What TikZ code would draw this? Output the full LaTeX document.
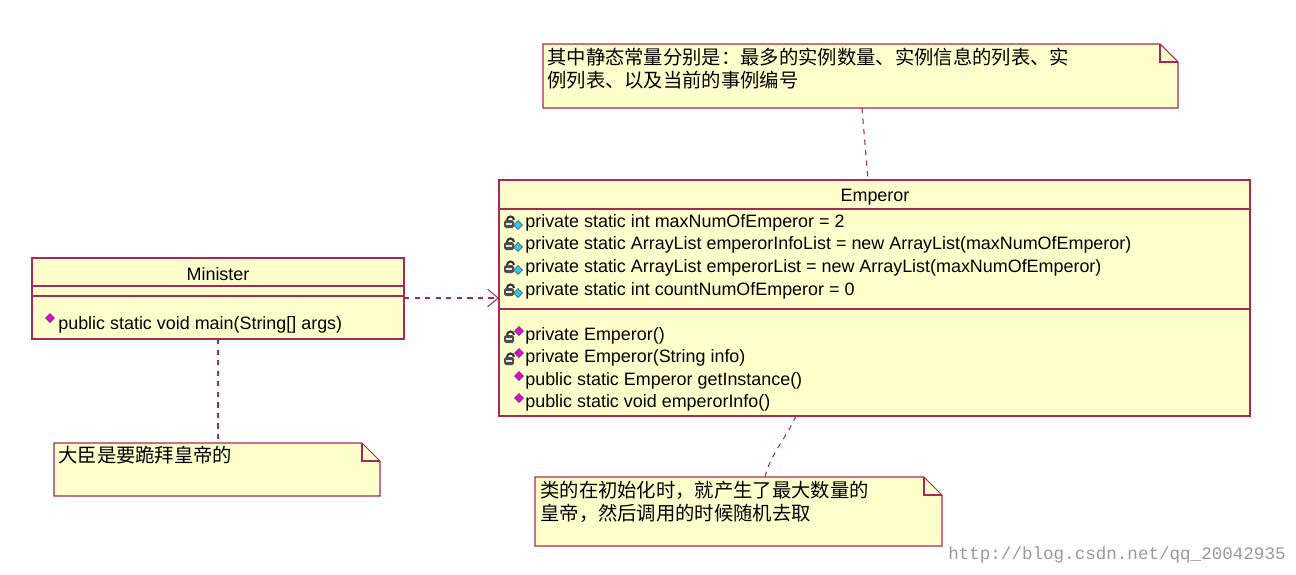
\documentclass[tikz,border=0pt]{standalone}
\usepackage{fontspec}
\setmainfont{Liberation Sans}
\newfontfamily\cjk{Noto Sans CJK SC}
\setmonofont{Liberation Mono}
\usetikzlibrary{arrows.meta,positioning,calc}
\definecolor{umlfill}{RGB}{255,255,204}
\definecolor{umlline}{RGB}{168,40,88}
\definecolor{attrblue}{RGB}{40,200,240}
\definecolor{opmag}{RGB}{230,0,220}
\tikzset{
  umlbox/.style={draw=umlline,fill=umlfill,line width=0.8pt},
  member/.style={anchor=west,inner sep=0pt,font=\fontsize{10.2}{12}\selectfont},
  notetext/.style={anchor=north west,inner sep=0pt,align=left,font=\cjk\fontsize{11}{13}\selectfont},
  link/.style={draw=umlline,dashed,line width=0.6pt}
}
\newcommand{\lockicon}[1]{%
  \draw[gray!40!black,line width=1.2pt] ($(#1)+(-8,-2)$) arc (180:360:3.5);
  \fill[gray!60!black,rounded corners=1pt] ($(#1)+(-11,-2)$) rectangle ($(#1)+(-1,6)$);
  \fill[gray!20] ($(#1)+(-9,1)$) rectangle ($(#1)+(-3,2.5)$);}
\newcommand{\diamicon}[2]{%
  \fill[#2,draw=black!70,line width=0.3pt] ($(#1)+(0,-4.5)$) -- ($(#1)+(4.5,0)$) -- ($(#1)+(0,4.5)$) -- ($(#1)+(-4.5,0)$) -- cycle;}
\begin{document}
\begin{tikzpicture}[x=0.02cm,y=-0.02cm]
\useasboundingbox (0,0) rectangle (1296,575);

% Minister class
\draw[umlbox] (32,258) rectangle (404,339);
\draw[umlline,line width=0.8pt] (32,286) -- (404,286) (32,296) -- (404,296);
\node[member,anchor=center] (minister) at (218,274) {Minister};
\diamicon{50,318}{opmag}
\node[member] (mmain) at (58,325) {public static void main(String[] args)};

% Emperor class
\draw[umlbox] (499,180) rectangle (1250,416);
\draw[umlline,line width=0.8pt] (499,209) -- (1250,209) (499,309) -- (1250,309);
\node[member,anchor=center] (emperor) at (875,197) {Emperor};
\foreach \y/\t in {223/private static int maxNumOfEmperor = 2,
                   245/private static ArrayList emperorInfoList = new ArrayList(maxNumOfEmperor),
                   268/private static ArrayList emperorList = new ArrayList(maxNumOfEmperor),
                   291/private static int countNumOfEmperor = 0}{
  \lockicon{515,\y-1}
  \diamicon{518,\y+2}{attrblue}
  \node[member] at (525,\y) {\t};
}
\foreach \y/\t/\l in {336/private Emperor()/1, 358/private Emperor(String info)/1,
                      381/public static Emperor getInstance()/0, 403/public static void emperorInfo()/0}{
  \ifnum\l=1 \lockicon{515,\y+1}\fi
  \diamicon{519,\y-5}{opmag}
  \node[member] at (525,\y) {\t};
}

% dependency
\coordinate (mdep) at (404,298);
\coordinate (edep) at (499,298);
\draw[link,-{Straight Barb[length=6pt,width=10pt]}] (mdep) -- (edep);

% notes
\draw[umlbox,line width=0.6pt] (543,44) -- (1160,44) -- (1178,62) -- (1178,108) -- (543,108) -- cycle;
\draw[umlline,line width=0.6pt] (1160,44) -- (1160,62) -- (1178,62);
\node[notetext] (notetop) at (547,48) {其中静态常量分别是：最多的实例数量、实例信息的列表、实\\例列表、以及当前的事例编号};

\draw[umlbox,line width=0.6pt] (54,443) -- (362,443) -- (380,461) -- (380,496) -- (54,496) -- cycle;
\draw[umlline,line width=0.6pt] (362,443) -- (362,461) -- (380,461);
\node[notetext] (noteleft) at (58,446) {大臣是要跪拜皇帝的};

\draw[umlbox,line width=0.6pt] (535,477) -- (924,477) -- (942,495) -- (942,546) -- (535,546) -- cycle;
\draw[umlline,line width=0.6pt] (924,477) -- (924,495) -- (942,495);
\node[notetext] (notebottom) at (540,481) {类的在初始化时，就产生了最大数量的\\皇帝，然后调用的时候随机去取};

% note links
\draw[link] (862,108) -- (868,180);
\draw[link] (218,339) -- (218,443);
\draw[link] (796,416) .. controls (785,440) and (770,455) .. (765,477);

\node[anchor=east,inner sep=0pt,text=gray!80,font=\ttfamily\fontsize{10}{12}\selectfont] (mark) at (1286,555) {http://blog.csdn.net/qq\_20042935};
\end{tikzpicture}
\end{document}
